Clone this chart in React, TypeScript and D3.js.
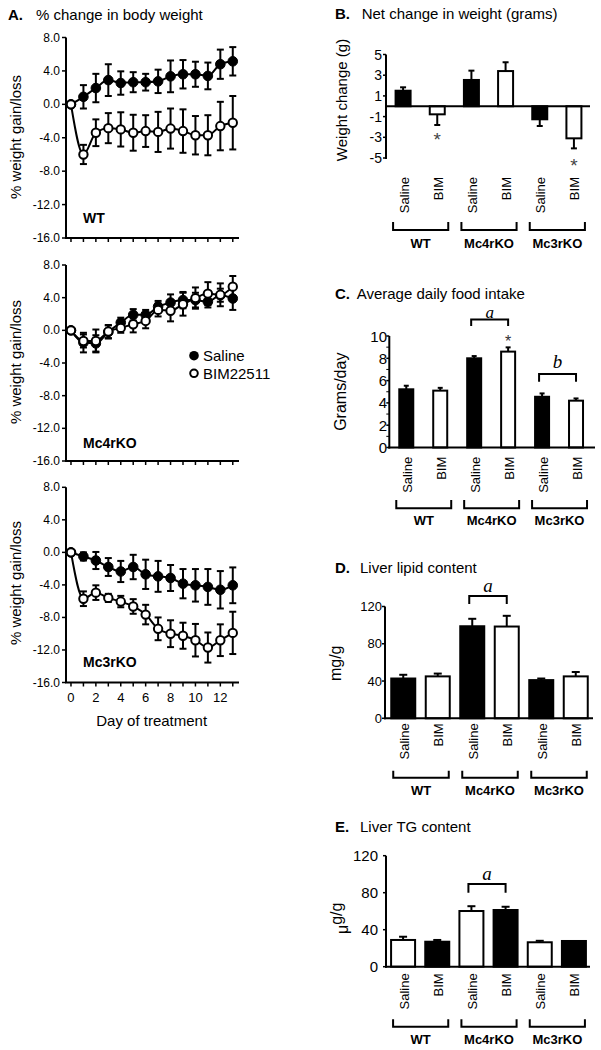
import React from "react";
import * as d3 from "d3";

// ---------------- DATA ----------------
const days = [0, 1, 2, 3, 4, 5, 6, 7, 8, 9, 10, 11, 12, 13];
const dayTickLabels = [0, 2, 4, 6, 8, 10, 12];
const pctTicks = [-16, -12, -8, -4, 0, 4, 8];

const wtSaline = [0, 0.9, 1.95, 2.9, 2.55, 2.65, 2.65, 2.75, 3.35, 3.6, 3.6, 3.4, 4.8, 5.15];
const wtSalineSE = [0, 1.4, 1.7, 1.9, 1.4, 1.2, 1.0, 1.4, 1.9, 1.7, 1.5, 1.6, 1.75, 1.7];
const wtBim = [0, -6.0, -3.4, -2.85, -3.0, -3.4, -3.2, -3.3, -2.9, -3.2, -3.7, -3.7, -2.6, -2.2];
const wtBimSE = [0, 1.15, 1.6, 1.8, 2.05, 2.15, 1.9, 2.4, 2.4, 2.6, 2.3, 2.4, 2.9, 3.2];

const mc4Saline = [0, -1.5, -1.6, -0.2, 0.95, 1.9, 1.9, 2.9, 3.4, 3.7, 3.7, 3.5, 4.3, 3.9];
const mc4SalineSE = [0, 1.2, 1.0, 0.8, 0.6, 0.7, 0.6, 0.7, 1.0, 1.0, 0.9, 0.7, 0.8, 1.4];
const mc4Bim = [0, -1.3, -1.3, -0.15, 0.3, 0.75, 1.15, 2.5, 2.4, 3.2, 3.95, 4.5, 4.35, 5.35];
const mc4BimSE = [0, 0.8, 1.4, 0.8, 0.6, 1.0, 0.9, 0.8, 1.3, 1.4, 1.3, 1.4, 1.4, 1.3];

const mc3Saline = [0, -0.5, -1.0, -1.8, -2.35, -1.8, -2.7, -2.95, -3.15, -3.85, -4.05, -4.25, -4.6, -4.05];
const mc3SalineSE = [0, 0.5, 1.05, 1.1, 1.3, 1.5, 1.8, 1.9, 1.6, 1.8, 2.0, 2.2, 2.3, 2.2];
const mc3Bim = [0, -5.7, -4.95, -5.6, -6.05, -6.65, -7.65, -9.4, -10.0, -10.25, -10.8, -11.7, -10.8, -9.9];
const mc3BimSE = [0, 0.9, 0.9, 0.5, 0.7, 0.9, 1.2, 1.4, 1.65, 1.6, 2.0, 1.85, 1.95, 2.6];

const treatments = ["Saline", "BIM", "Saline", "BIM", "Saline", "BIM"];
const genotypes = ["WT", "Mc4rKO", "Mc3rKO"];
const seriesNames = ["Saline", "BIM22511"];

const netChange = [1.5, -0.78, 2.54, 3.4, -1.26, -3.1];
const netChangeSE = [0.33, 1.03, 0.9, 0.85, 0.65, 0.97];
const netTicks = [-5, -3, -1, 1, 3, 5];

const foodIntake = [5.22, 5.1, 8.0, 8.6, 4.55, 4.2];
const foodIntakeSE = [0.32, 0.25, 0.2, 0.38, 0.3, 0.2];
const foodTicks = [0, 2, 4, 6, 8, 10];

const liverLipid = [42.7, 45, 98.8, 98.5, 41, 45];
const liverLipidSE = [4, 3, 8, 11.5, 1.7, 4.7];
const lipidTicks = [0, 40, 80, 120];

const liverTG = [28.9, 27, 60.2, 61.3, 26.4, 27.8];
const liverTGSE = [3.5, 1.9, 5.2, 3.5, 1.6, 0];
const tgTicks = [0, 40, 80, 120];

// ---------------- STYLE ----------------
const FONT = "'Liberation Sans', Arial, Helvetica, sans-serif";
const SERIF = "'Liberation Serif', 'Times New Roman', serif";
const SW = 2;

const xA = d3.scaleLinear().domain([-0.4, 13.5]).range([66, 239]);

function ErrBar({ x, y1, y2, hw }: any) {
  return (
    <g stroke="#000" strokeWidth={SW}>
      <line x1={x} x2={x} y1={y1} y2={y2} />
      <line x1={x - hw} x2={x + hw} y1={y2} y2={y2} />
    </g>
  );
}

function Series({ y, mean, se, open }: any) {
  const line = d3
    .line<number>()
    .x((_, i) => xA(days[i]))
    .y((d) => y(d))
    .curve(d3.curveMonotoneX);
  return (
    <g>
      {mean.map((m: number, i: number) =>
        se[i] > 0 ? (
          <g key={"e" + i} stroke="#000" strokeWidth={SW}>
            <line x1={xA(days[i])} x2={xA(days[i])} y1={y(m - se[i])} y2={y(m + se[i])} />
            <line x1={xA(days[i]) - 3.5} x2={xA(days[i]) + 3.5} y1={y(m - se[i])} y2={y(m - se[i])} />
            <line x1={xA(days[i]) - 3.5} x2={xA(days[i]) + 3.5} y1={y(m + se[i])} y2={y(m + se[i])} />
          </g>
        ) : null
      )}
      <path d={line(mean) || ""} fill="none" stroke="#000" strokeWidth={SW} />
      {mean.map((m: number, i: number) => (
        <circle
          key={"c" + i}
          cx={xA(days[i])}
          cy={y(m)}
          r={open ? 4.2 : 4.8}
          fill={open ? "#fff" : "#000"}
          stroke="#000"
          strokeWidth={open ? 2 : 1}
        />
      ))}
    </g>
  );
}

function LinePanel({ top, bottom, sal, salSE, bim, bimSE, label, labelY, yLabelY, xLabels, legend }: any) {
  const y = d3.scaleLinear().domain([-16, 8]).range([bottom, top]);
  return (
    <g>
      <line x1={66} x2={66} y1={y(8)} y2={y(-16)} stroke="#000" strokeWidth={SW} />
      <line x1={65} x2={239} y1={y(-16)} y2={y(-16)} stroke="#000" strokeWidth={SW} />
      {pctTicks.map((t) => (
        <g key={t}>
          <line x1={62} x2={66} y1={y(t)} y2={y(t)} stroke="#000" strokeWidth={1.5} />
          <text x={60} y={y(t)} textAnchor="end" dominantBaseline="central" fontSize={12}>
            {t.toFixed(1)}
          </text>
        </g>
      ))}
      {days.map((d) => (
        <line key={d} x1={xA(d)} x2={xA(d)} y1={y(-16)} y2={y(-16) + 4} stroke="#000" strokeWidth={1.5} />
      ))}
      {xLabels &&
        dayTickLabels.map((d) => (
          <text key={d} x={xA(d)} y={y(-16) + 15} textAnchor="middle" dominantBaseline="central" fontSize={13}>
            {d}
          </text>
        ))}
      <text
        transform={`translate(15,${yLabelY}) rotate(-90)`}
        textAnchor="middle"
        dominantBaseline="central"
        fontSize={15}
      >
        % weight gain/loss
      </text>
      <text x={83} y={labelY} dominantBaseline="central" fontSize={14} fontWeight="bold">
        {label}
      </text>
      <Series y={y} mean={sal} se={salSE} open={false} />
      <Series y={y} mean={bim} se={bimSE} open={true} />
      {legend && (
        <g>
          <circle cx={194} cy={355.7} r={4.8} fill="#000" />
          <text x={203} y={355.7} dominantBaseline="central" fontSize={15}>
            {seriesNames[0]}
          </text>
          <circle cx={194} cy={373.3} r={3.8} fill="#fff" stroke="#000" strokeWidth={2} />
          <text x={203} y={373.3} dominantBaseline="central" fontSize={15}>
            {seriesNames[1]}
          </text>
        </g>
      )}
    </g>
  );
}

function BarPanel(p: any) {
  const x = d3.scalePoint<number>().domain(d3.range(6)).range(p.xRange).padding(0.5);
  const y = d3.scaleLinear().domain(p.domain).range(p.yRange);
  const base = y(0);
  const bw = p.barW;
  return (
    <g>
      <text x={335} y={p.titleY} dominantBaseline="central" fontSize={15} fontWeight="bold">
        {p.letter}
      </text>
      <text x={p.titleX} y={p.titleY} dominantBaseline="central" fontSize={15}>
        {p.title}
      </text>
      {/* bars */}
      {p.values.map((v: number, i: number) => {
        const cx = x(i) as number;
        const yv = y(v);
        const ye = y(v + Math.sign(v) * p.se[i]);
        return (
          <g key={i}>
            {p.se[i] > 0 && <ErrBar x={cx} y1={yv} y2={ye} hw={p.capW} />}
            <rect
              x={cx - bw / 2}
              y={Math.min(yv, base)}
              width={bw}
              height={Math.abs(base - yv)}
              fill={p.fills[i]}
              stroke="#000"
              strokeWidth={SW}
            />
          </g>
        );
      })}
      {/* axes */}
      <line x1={p.axisX} x2={p.axisX} y1={y(p.domain[1])} y2={y(p.domain[0]) + 1} stroke="#000" strokeWidth={SW} />
      <line x1={p.axisX - 1} x2={p.axisEnd} y1={base} y2={base} stroke="#000" strokeWidth={SW} />
      {(p.minor || []).map((t: number) => (
        <line key={"m" + t} x1={p.axisX - 3} x2={p.axisX} y1={y(t)} y2={y(t)} stroke="#000" strokeWidth={1} />
      ))}
      {p.ticks.map((t: number) => (
        <g key={t}>
          <line x1={p.axisX - 3} x2={p.axisX} y1={y(t)} y2={y(t)} stroke="#000" strokeWidth={1.5} />
          <text x={p.tickEnd} y={y(t)} textAnchor="end" dominantBaseline="central" fontSize={p.tickFont}>
            {t}
          </text>
        </g>
      ))}
      {p.yLabel}
      {/* category labels */}
      {treatments.map((t, i) => (
        <text
          key={i}
          transform={`translate(${(x(i) as number) + 1},${p.catTop}) rotate(-90)`}
          textAnchor="end"
          dominantBaseline="central"
          fontSize={13}
        >
          {t}
        </text>
      ))}
      {/* group brackets */}
      {genotypes.map((g, gi) => {
        const x1 = (x(gi * 2) as number) - 10;
        const x2 = (x(gi * 2 + 1) as number) + 11;
        return (
          <g key={g}>
            <path
              d={`M${x1},${p.brTop}V${p.brBot}H${x2}V${p.brTop}`}
              fill="none"
              stroke="#000"
              strokeWidth={SW}
            />
            <text x={(x1 + x2) / 2} y={p.groupY} textAnchor="middle" dominantBaseline="central" fontSize={13} fontWeight="bold">
              {g}
            </text>
          </g>
        );
      })}
      {/* significance */}
      {(p.sig || []).map((s: any, k: number) => {
        const x1 = (x(s.a) as number) - 3;
        const x2 = x(s.b) as number;
        return (
          <g key={"s" + k}>
            <path d={`M${x1},${s.y2}V${s.y1}H${x2}V${s.y2}`} fill="none" stroke="#000" strokeWidth={SW} />
            <text
              x={(x1 + x2) / 2}
              y={s.ly}
              textAnchor="middle"
              fontSize={s.size || 19}
              fontStyle="italic"
              fontFamily={SERIF}
            >
              {s.label}
            </text>
          </g>
        );
      })}
      {(p.stars || []).map((s: any, k: number) => (
        <text
          key={"st" + k}
          x={x(s.i) as number}
          y={s.y}
          textAnchor="middle"
          dominantBaseline="central"
          fontSize={s.size}
          fill={s.color}
        >
          *
        </text>
      ))}
    </g>
  );
}

export default function App() {
  const blackWhite = ["#000", "#fff", "#000", "#fff", "#000", "#fff"];
  const whiteBlack = ["#fff", "#000", "#fff", "#000", "#fff", "#000"];
  return (
    <svg
      width={601}
      height={1050}
      style={{ position: "absolute", left: 0, top: 0, display: "block" }}
      fontFamily={FONT}
    >
      <rect width={601} height={1050} fill="#fff" />
      {/* Panel A */}
      <text x={8} y={14} dominantBaseline="central" fontSize={15} fontWeight="bold">
        A.
      </text>
      <text x={36} y={14} dominantBaseline="central" fontSize={15}>
        % change in body weight
      </text>
      <LinePanel top={37.5} bottom={238} sal={wtSaline} salSE={wtSalineSE} bim={wtBim} bimSE={wtBimSE}
        label="WT" labelY={218} yLabelY={137} />
      <LinePanel top={265} bottom={461} sal={mc4Saline} salSE={mc4SalineSE} bim={mc4Bim} bimSE={mc4BimSE}
        label="Mc4rKO" labelY={442.7} yLabelY={362} legend />
      <LinePanel top={487.3} bottom={682.5} sal={mc3Saline} salSE={mc3SalineSE} bim={mc3Bim} bimSE={mc3BimSE}
        label="Mc3rKO" labelY={662} yLabelY={583} xLabels />
      <text x={151.7} y={720.7} textAnchor="middle" dominantBaseline="central" fontSize={15}>
        Day of treatment
      </text>

      {/* Panel B */}
      <BarPanel
        letter="B." title="Net change in weight (grams)" titleX={361.7} titleY={13.3}
        values={netChange} se={netChangeSE} fills={blackWhite}
        domain={[-5, 5]} yRange={[158, 54.5]} xRange={[386, 591]} barW={15} capW={3}
        axisX={386} axisEnd={590} ticks={netTicks} tickEnd={382} tickFont={14}
        yLabel={<text transform="translate(341.7,100) rotate(-90)" textAnchor="middle" dominantBaseline="central" fontSize={15}>Weight change (g)</text>}
        catTop={177} brTop={222} brBot={230} groupY={243}
        stars={[{ i: 1, y: 139, size: 19, color: "#444" }, { i: 5, y: 165, size: 19, color: "#444" }]}
      />

      {/* Panel C */}
      <BarPanel
        letter="C." title="Average daily food intake" titleX={356.7} titleY={293.5}
        values={foodIntake} se={foodIntakeSE} fills={blackWhite}
        domain={[0, 10]} yRange={[447.5, 336]} xRange={[389.3, 593]} barW={14} capW={2.5}
        axisX={389.3} axisEnd={595} ticks={foodTicks} minor={[1, 3, 5, 7, 9]} tickEnd={387} tickFont={15}
        yLabel={<text transform="translate(340.7,391.7) rotate(-90)" textAnchor="middle" dominantBaseline="central" fontSize={16}>Grams/day</text>}
        catTop={456.7} brTop={500} brBot={508.3} groupY={520.7}
        sig={[{ a: 2, b: 3, y1: 319.5, y2: 326, ly: 317.5, size: 17, label: "a" }, { a: 4, b: 5, y1: 374, y2: 381.7, ly: 368, label: "b" }]}
        stars={[{ i: 3, y: 341, size: 16, color: "#333" }]}
      />

      {/* Panel D */}
      <BarPanel
        letter="D." title="Liver lipid content" titleX={360} titleY={567.7}
        values={liverLipid} se={liverLipidSE} fills={blackWhite}
        domain={[0, 120]} yRange={[718.3, 606.5]} xRange={[386, 593]} barW={24} capW={4}
        axisX={385} axisEnd={593} ticks={lipidTicks} tickEnd={382} tickFont={13}
        yLabel={<text transform="translate(335,663.3) rotate(-90)" textAnchor="middle" dominantBaseline="central" fontSize={16}>mg/g</text>}
        catTop={723.3} brTop={770.7} brBot={777.7} groupY={790.7}
        sig={[{ a: 2, b: 3, y1: 596, y2: 604, ly: 591.5, label: "a" }]}
      />

      {/* Panel E */}
      <BarPanel
        letter="E." title="Liver TG content" titleX={360} titleY={826}
        values={liverTG} se={liverTGSE} fills={whiteBlack}
        domain={[0, 120]} yRange={[966.7, 855.7]} xRange={[386, 591]} barW={24} capW={4}
        axisX={386} axisEnd={590} ticks={tgTicks} tickEnd={378} tickFont={15}
        yLabel={
          <text transform="translate(342,934) rotate(-90)" textAnchor="start" fontSize={16}>
            <tspan dy={6}>μ</tspan>
            <tspan dy={-6}>g/g</tspan>
          </text>
        }
        catTop={973.3} brTop={1019.3} brBot={1026.7} groupY={1039.3}
        sig={[{ a: 2, b: 3, y1: 884, y2: 892.7, ly: 880, label: "a" }]}
      />
    </svg>
  );
}
